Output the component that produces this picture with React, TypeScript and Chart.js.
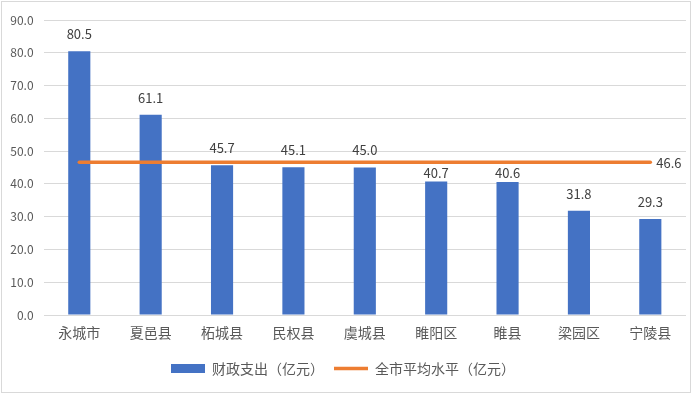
import React, { useEffect, useRef } from "react";
import { Chart, registerables } from "chart.js";

Chart.register(...registerables);

const categories = ["永城市", "夏邑县", "柘城县", "民权县", "虞城县", "睢阳区", "睢县", "梁园区", "宁陵县"];
const spendingValues = [80.5, 61.1, 45.7, 45.1, 45.0, 40.7, 40.6, 31.8, 29.3];
const averageValues = [46.6, 46.6, 46.6, 46.6, 46.6, 46.6, 46.6, 46.6, 46.6];
const spendingLabel = "财政支出（亿元）";
const averageLabel = "全市平均水平（亿元）";

const FONT = "'Noto Sans CJK SC', 'Noto Sans', sans-serif";

const labelsPlugin = {
  id: "valueLabels",
  afterDatasetsDraw(chart: any) {
    const ctx = chart.ctx;
    ctx.save();
    ctx.fillStyle = "#404040";
    ctx.font = `13px ${FONT}`;
    const barMeta = chart.getDatasetMeta(0);
    const lineMeta = chart.getDatasetMeta(1);
    const lineY = lineMeta.data.length ? lineMeta.data[0].y : -1000;
    ctx.textAlign = "center";
    ctx.textBaseline = "middle";
    barMeta.data.forEach((el: any, i: number) => {
      let cy = el.y - 17;
      // avoid colliding with the average line: move label just below it
      if (Math.abs(cy - lineY) < 9) cy = lineY + 11;
      ctx.fillText(spendingValues[i].toFixed(1), el.x, cy);
    });
    const last = lineMeta.data[lineMeta.data.length - 1];
    if (last) {
      ctx.textAlign = "left";
      ctx.textBaseline = "middle";
      ctx.fillText(averageValues[averageValues.length - 1].toFixed(1), last.x + 6, last.y + 1);
    }
    ctx.restore();
  },
  afterDraw(chart: any) {
    const ctx = chart.ctx;
    ctx.save();
    ctx.strokeStyle = "#d9d9d9";
    ctx.lineWidth = 1;
    ctx.strokeRect(1.5, 1.5, chart.width - 3, chart.height - 3);
    ctx.restore();
  },
};

export default function App() {
  const ref = useRef<HTMLCanvasElement | null>(null);
  useEffect(() => {
    document.body.style.margin = "0";
    const canvas = ref.current;
    if (!canvas) return;
    const chart = new Chart(canvas, {
      type: "bar",
      data: {
        labels: categories,
        datasets: [
          {
            type: "bar",
            label: spendingLabel,
            data: spendingValues,
            backgroundColor: "#4472C4",
            borderWidth: 0,
            barPercentage: 0.31,
            categoryPercentage: 1,
            order: 2,
            pointStyle: "rect",
          } as any,
          {
            type: "line",
            label: averageLabel,
            data: averageValues,
            borderColor: "#ED7D31",
            backgroundColor: "#ED7D31",
            borderWidth: 3.5,
            borderCapStyle: "round",
            pointRadius: 0,
            pointHoverRadius: 0,
            fill: false,
            order: 1,
            pointStyle: "line",
          } as any,
        ],
      },
      options: {
        responsive: false,
        animation: false,
        layout: { padding: { left: 0, right: 6, top: 20, bottom: 8.5 } },
        plugins: {
          tooltip: { enabled: false },
          legend: {
            position: "bottom",
            labels: {
              usePointStyle: true,
              pointStyleWidth: 34,
              boxHeight: 9,
              padding: 10,
              color: "#595959",
              font: { family: FONT, size: 14 },
              sort: (a: any, b: any) => a.datasetIndex - b.datasetIndex,
            },
          },
        },
        scales: {
          x: {
            grid: { display: false, drawTicks: false },
            border: { display: false },
            ticks: { color: "#595959", font: { family: FONT, size: 14 }, padding: 9, maxRotation: 0 },
            afterFit(scale: any) {
              scale.height = 36.5;
            },
          },
          y: {
            min: 0,
            max: 90,
            grid: { color: "#d9d9d9", drawTicks: false, lineWidth: 1 },
            border: { display: false },
            ticks: {
              stepSize: 10,
              color: "#595959",
              font: { family: FONT, size: 12 },
              padding: 10,
              callback: (v: any) => Number(v).toFixed(1),
            },
            afterFit(scale: any) {
              scale.width = 43.6;
            },
          },
        },
      },
      plugins: [labelsPlugin],
    });
    return () => chart.destroy();
  }, []);
  return (
    <div style={{ position: "absolute", left: 0, top: 0, width: 692, height: 394 }}>
      <canvas ref={ref} width={692} height={394} style={{ width: 692, height: 394, display: "block" }} />
    </div>
  );
}
